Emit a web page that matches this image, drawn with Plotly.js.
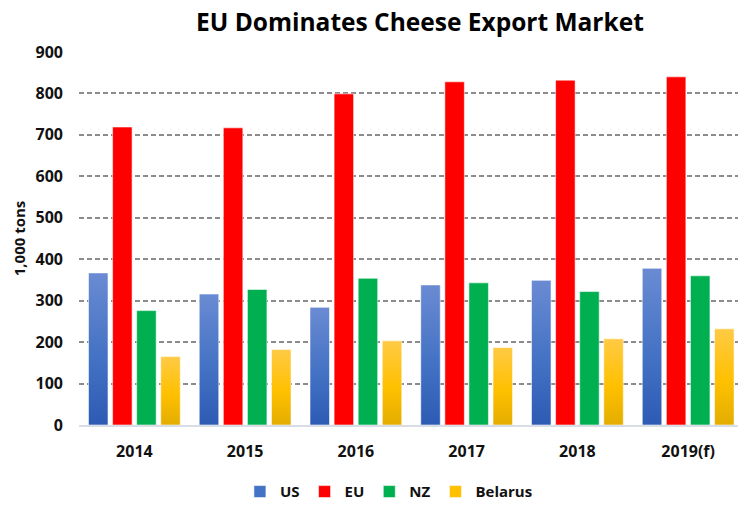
<!DOCTYPE html>
<html>
<head>
<meta charset="utf-8">
<script src="https://cdn.plot.ly/plotly-3.0.1.min.js"></script>
<style>html,body{margin:0;padding:0;background:#fff;}</style>
</head>
<body>
<div id="chart" style="width:738px;height:506px;"></div>
<script>
const categories = ["2014", "2015", "2016", "2017", "2018", "2019(f)"];
const usValues = [367, 316, 284, 338, 349, 378];
const euValues = [719, 717, 799, 828, 832, 840];
const nzValues = [276, 327, 354, 343, 322, 360];
const belarusValues = [165, 182, 203, 187, 208, 232];
const yTicks = [0, 100, 200, 300, 400, 500, 600, 700, 800, 900];

const FONT = "'Open Sans', Lato, sans-serif";
const lineStyle = {color: "rgba(255,255,255,0.55)", width: 1};

const traces = [
  {type: "bar", name: "US", x: categories, y: usValues, marker: {color: "#4472c4", line: lineStyle}},
  {type: "bar", name: "EU", x: categories, y: euValues, marker: {color: "#ff0000", line: lineStyle}},
  {type: "bar", name: "NZ", x: categories, y: nzValues, marker: {color: "#00b050", line: lineStyle}},
  {type: "bar", name: "Belarus", x: categories, y: belarusValues, marker: {color: "#ffc000", line: lineStyle}}
];

const layout = {
  width: 738, height: 506,
  margin: {l: 79, r: 0, t: 52, b: 81},
  paper_bgcolor: "#ffffff", plot_bgcolor: "#ffffff",
  barmode: "group", bargap: 0.13, bargroupgap: 0.19,
  title: {text: "<b>EU Dominates Cheese Export Market</b>", x: 0.569, xanchor: "center", y: 0.955, yanchor: "middle",
          font: {family: FONT, size: 24.5, color: "#000"}},
  xaxis: {
    type: "category", range: [-0.5, 5.45],
    showgrid: false, showline: true, linecolor: "#d9dde6", linewidth: 2,
    ticks: "", tickfont: {family: FONT, size: 16, color: "#111", weight: "bold"},
    ticklabelstandoff: 11, fixedrange: true
  },
  yaxis: {
    range: [0, 900], tickvals: yTicks, ticktext: yTicks.map(String),
    showgrid: true, gridcolor: "#8c8c8c", gridwidth: 2, griddash: "5px,3px",
    zeroline: false, showline: false, ticks: "",
    tickfont: {family: FONT, size: 16, color: "#111", weight: "bold"},
    ticklabelstandoff: 15,
    title: {text: "<b>1,000 tons</b>", font: {family: FONT, size: 15, color: "#111"}, standoff: 6},
    fixedrange: true
  },
  showlegend: true,
  legend: {orientation: "h", xref: "container", x: 0.527, xanchor: "center",
           yref: "container", y: 0.028, yanchor: "middle", tracegroupgap: 0,
           font: {family: FONT, size: 15, color: "#111", weight: "bold"}, itemwidth: 30,
           traceorder: "normal"}
};

function applyGradients() {
  const svg = document.querySelector("#chart .main-svg");
  if (!svg) return;
  let defs = svg.querySelector("defs");
  if (!defs) { defs = document.createElementNS("http://www.w3.org/2000/svg", "defs"); svg.insertBefore(defs, svg.firstChild); }
  const grads = {
    gUS: [["0%", "#6a8bd3"], ["55%", "#4472c4"], ["100%", "#2d5bb4"]],
    gBY: [["0%", "#ffca45"], ["55%", "#ffc000"], ["100%", "#e3ad00"]]
  };
  for (const id in grads) {
    if (document.getElementById(id)) continue;
    const lg = document.createElementNS("http://www.w3.org/2000/svg", "linearGradient");
    lg.setAttribute("id", id);
    lg.setAttribute("x1", "0"); lg.setAttribute("y1", "0");
    lg.setAttribute("x2", "0"); lg.setAttribute("y2", "1");
    grads[id].forEach(([o, c]) => {
      const s = document.createElementNS("http://www.w3.org/2000/svg", "stop");
      s.setAttribute("offset", o); s.setAttribute("stop-color", c);
      lg.appendChild(s);
    });
    defs.appendChild(lg);
  }
  const tracesEl = document.querySelectorAll("#chart .barlayer .trace");
  const map = {0: "gUS", 3: "gBY"};
  tracesEl.forEach((t, i) => {
    if (map[i]) t.querySelectorAll("path").forEach(p => { p.style.fill = "url(#" + map[i] + ")"; });
  });
}

Plotly.newPlot("chart", traces, layout, {displayModeBar: false, staticPlot: true}).then(gd => {
  applyGradients();
  gd.on("plotly_afterplot", applyGradients);
});
</script>
</body>
</html>
